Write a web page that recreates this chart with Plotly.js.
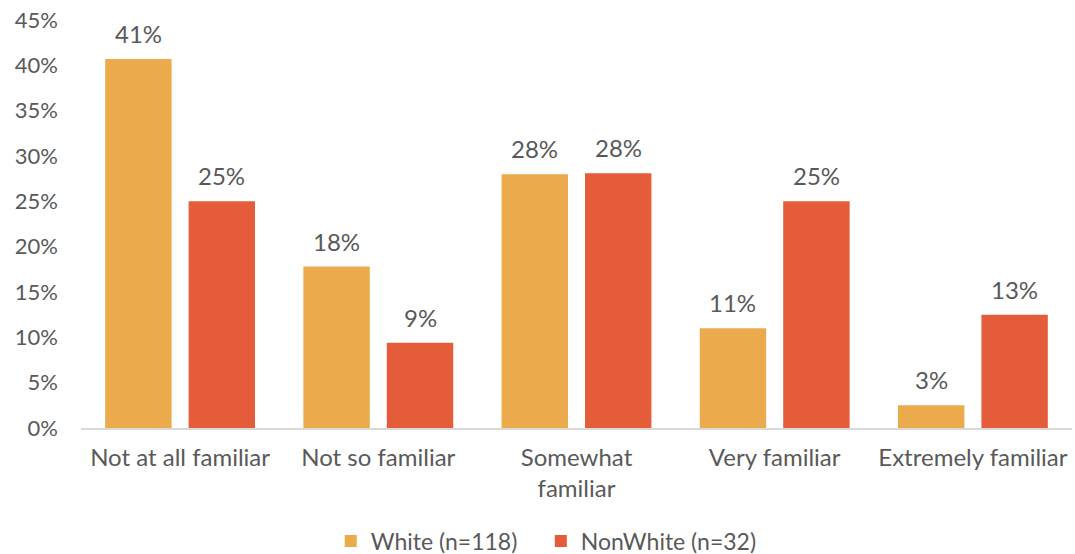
<!DOCTYPE html>
<html>
<head>
<meta charset="utf-8">
<script src="https://cdn.plot.ly/plotly-3.0.1.min.js"></script>
<style>html,body{margin:0;padding:0;background:#fff;}#chart{width:1075px;height:554px;}</style>
</head>
<body>
<div id="chart"></div>
<script>
const categories = ["Not at all familiar", "Not so familiar", "Somewhat<br>familiar", "Very familiar", "Extremely familiar"];
const whiteName = "White (n=118)";
const nonWhiteName = "NonWhite (n=32)";
const whiteValues = [40.7, 17.8, 28.0, 11.0, 2.5];
const nonWhiteValues = [25.0, 9.4, 28.1, 25.0, 12.5];
const whiteLabels = ["41%", "18%", "28%", "11%", "3%"];
const nonWhiteLabels = ["25%", "9%", "28%", "25%", "13%"];
const yTickVals = [0, 5, 10, 15, 20, 25, 30, 35, 40, 45];
const yTickText = ["0%", "5%", "10%", "15%", "20%", "25%", "30%", "35%", "40%", "45%"];

const fontFam = "Lato, 'Open Sans', sans-serif";
const txtColor = "#595959";

// bar geometry in category units
const barW = 0.335;
const innerGap = 0.086;
const offW = -(barW + innerGap / 2);
const offN = innerGap / 2;

const traces = [
  {type: "bar", name: whiteName, x: categories, y: whiteValues, width: barW, offset: offW,
   hoverinfo: "none", marker: {color: "#EBAA4C"}, legend: "legend"},
  {type: "bar", name: nonWhiteName, x: categories, y: nonWhiteValues, width: barW, offset: offN,
   hoverinfo: "none", marker: {color: "#E45C3A"}, legend: "legend2"}
];

const annotations = [];
const addLabels = (vals, labels, off) => {
  vals.forEach((v, i) => {
    annotations.push({
      x: i + off + barW / 2, y: v, xref: "x", yref: "y", text: labels[i],
      showarrow: false, yanchor: "bottom", xanchor: "center", yshift: 9,
      font: {family: fontFam, size: 24, color: txtColor}
    });
  });
};
addLabels(whiteValues, whiteLabels, offW);
addLabels(nonWhiteValues, nonWhiteLabels, offN);

const legendFont = {family: fontFam, size: 23, color: txtColor};

const layout = {
  width: 1075, height: 554,
  margin: {l: 81, r: 3, t: 20, b: 126, autoexpand: false},
  paper_bgcolor: "#fff", plot_bgcolor: "#fff",
  font: {family: fontFam, size: 22, color: txtColor},
  barmode: "group",
  showlegend: true,
  annotations: annotations,
  legend: {orientation: "h", x: 0.252, xanchor: "left", y: -0.277, yanchor: "middle",
           font: legendFont, itemwidth: 30},
  legend2: {orientation: "h", x: 0.464, xanchor: "left", y: -0.277, yanchor: "middle",
           font: legendFont, itemwidth: 30},
  xaxis: {type: "category", range: [-0.5, 4.5], showgrid: false, zeroline: false, showline: true, linecolor: "#D9D9D9", linewidth: 2,
          automargin: false, ticks: "", tickfont: {family: fontFam, size: 24, color: txtColor}, ticklabelstandoff: 7, fixedrange: true},
  yaxis: {range: [0, 45], tickvals: yTickVals, ticktext: yTickText, showgrid: false, zeroline: false, showline: false,
          automargin: false, ticks: "", tickfont: {family: fontFam, size: 22, color: txtColor}, ticklabelstandoff: 22, fixedrange: true}
};

Plotly.newPlot("chart", traces, layout, {displayModeBar: false, staticPlot: true});
</script>
</body>
</html>
